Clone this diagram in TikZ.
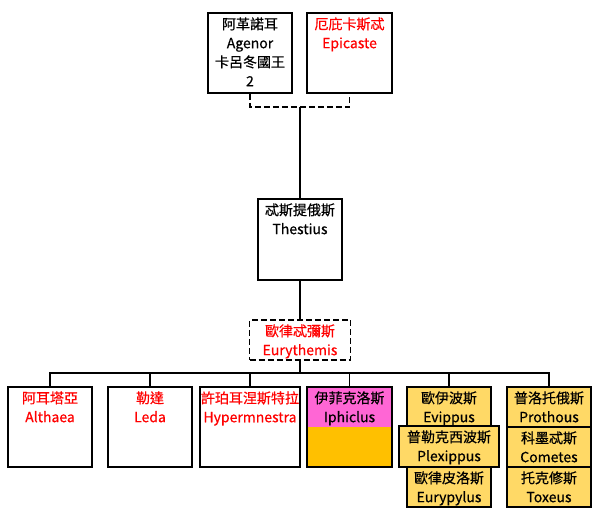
\documentclass[tikz,border=0pt]{standalone}
\usepackage{fontspec}
\setmainfont[FakeBold=0.6]{Noto Sans CJK TC}
\begin{document}
\begin{tikzpicture}[x=1pt,y=-1pt,
  box/.style={draw=black,line width=1.6pt,minimum width=#1,inner sep=0pt},
  box/.default=84pt,
  txt/.style={anchor=north,align=center,inner sep=0pt,font=\fontsize{14}{19}\selectfont,yshift=-5pt},
  conn/.style={line width=1.3pt},
  dsh/.style={dash pattern=on 6pt off 3pt,line width=1.6pt},
  red/.style={text=red}]
\useasboundingbox (0,0) rectangle (600,521);
\definecolor{lorange}{HTML}{FFD966}
\definecolor{dorange}{HTML}{FFC000}
\definecolor{pinkc}{HTML}{FF66D5}
% top
\node[box,minimum height=80pt] (ag) at (250,53) {};
\node[txt] at (ag.north) {阿革諾耳\\Agenor\\卡呂冬國王\\2};
\node[box=85pt,minimum height=80pt] (ep) at (349.5,53) {};
\node[txt,red] at (ep.north) {厄庇卡斯忒\\Epicaste};
\coordinate (mid) at (300,107);
\draw[dsh] (ag.south) |- (mid) -| (ep.south);
% Thestius
\node[box,minimum height=81pt] (th) at (300,239.5) {};
\node[txt] at (th.north) {忒斯提俄斯\\Thestius};
\draw[conn] (mid) -- (th.north);
% Eurythemis
\node[box=101pt,minimum height=40pt,dsh] (eu) at (300,340) {};
\node[txt,red] at (eu.north) {歐律忒彌斯\\Eurythemis};
\draw[conn] (th.south) -- (eu.north);
\coordinate (bus) at (300,373);
\draw[conn] (eu.south) -- (bus);
% children
\node[box,minimum height=80pt] (al) at (50,427) {};
\node[txt,red] at (al.north) {阿耳塔亞\\Althaea};
\node[box,minimum height=80pt] (le) at (150,427) {};
\node[txt,red] at (le.north) {勒達\\Leda};
\node[box=100pt,minimum height=80pt] (hy) at (250,427) {};
\node[txt,red] at (hy.north) {許珀耳涅斯特拉\\Hypermnestra};
% Iphiclus
\fill[pinkc] (307,387) rectangle (392,427);
\fill[dorange] (307,427) rectangle (392,467);
\node[box=85pt,minimum height=80pt] (ip) at (349.5,427) {};
\node[txt] at (ip.north) {伊菲克洛斯\\Iphiclus};
% column 5
\node[box,minimum height=39pt,fill=lorange] (ev) at (449,406.5) {};
\node[txt] at (ev.north) {歐伊波斯\\Evippus};
\node[box,minimum height=40pt,fill=lorange] (eup) at (449,487) {};
\node[txt] at (eup.north) {歐律皮洛斯\\Eurypylus};
\node[box=100pt,minimum height=41pt,fill=lorange] (pl) at (449,446.5) {};
\node[txt] at (pl.north) {普勒克西波斯\\Plexippus};
% column 6
\node[box,minimum height=40pt,fill=lorange] (pr) at (549,407) {};
\node[txt] at (pr.north) {普洛托俄斯\\Prothous};
\node[box,minimum height=40pt,fill=lorange] (co) at (549,447) {};
\node[txt] at (co.north) {科墨忒斯\\Cometes};
\node[box,minimum height=40pt,fill=lorange] (to) at (549,487) {};
\node[txt] at (to.north) {托克修斯\\Toxeus};
% connectors to children
\foreach \c in {al,le,hy,ip,ev,pr} \draw[conn] (\c.north) |- (bus);
\end{tikzpicture}
\end{document}
